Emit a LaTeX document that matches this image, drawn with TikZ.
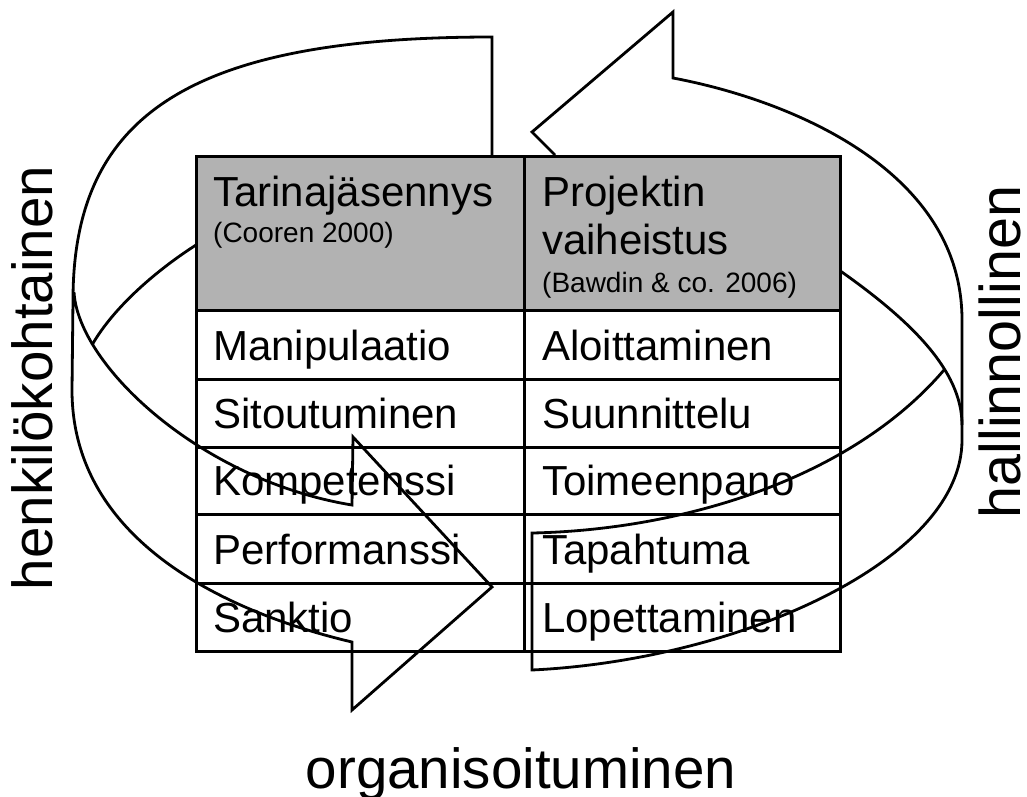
\documentclass[tikz,border=0pt]{standalone}
\usepackage{fontspec}
\setmainfont{Liberation Sans}
\definecolor{hdr}{RGB}{178,178,178}
\begin{document}
\begin{tikzpicture}[x=1pt,y=-1pt,
  outline/.style={draw=black, line width=2.8pt, line join=miter},
  cellbox/.style={draw=black, line width=2.6pt, inner sep=0pt, anchor=north west},
  headbox/.style={cellbox, fill=hdr},
  celltext/.style={font=\fontsize{42}{48}\selectfont, inner sep=0pt, anchor=base west},
  smalltext/.style={font=\fontsize{28}{32}\selectfont, inner sep=0pt, anchor=base west},
  sidelabel/.style={font=\fontsize{56.5}{64}\selectfont, inner sep=0pt, anchor=base}]

\useasboundingbox (0,0) rectangle (1027,796);
\fill[white] (0,0) rectangle (1027,796);

% left circular arrow: tail at the top, head pointing right at the bottom
\draw[outline] (492,155) -- (492,37)
  .. controls (190,37) and (73,115) .. (73,300) -- (72,390)
  .. controls (72,540) and (225,612) .. (352,642)
  -- (352,710) -- (492,587) -- (353,437) -- (352,505)
  .. controls (200,480) and (78,365) .. (74,292);
\draw[outline] (196,245) .. controls (160,268) and (115,305) .. (92,345);

% right circular arrow: tail at the bottom, head pointing left at the top
\draw[outline] (555,155) -- (532,132) -- (673,12) -- (673,78)
  .. controls (790,100) and (962,170) .. (962,320) -- (962,440)
  .. controls (962,560) and (740,660) .. (532,670) -- (532,533)
  .. controls (680,530) and (850,480) .. (944,370);
\draw[outline] (839,270) .. controls (910,320) and (962,370) .. (962,425);

% table header
\node[headbox, minimum width=328pt, minimum height=154pt] (hl) at (195,155) {};
\node[headbox, minimum width=316pt, minimum height=154pt] (hr) at (523,155) {};
\node[celltext] (hlt) at (213,206) {Tarinajäsennys};
\node[smalltext] (hls) at (213,242) {(Cooren 2000)};
\node[celltext] (hrt) at (542,206) {Projektin};
\node[celltext] (hrt2) at (542,254) {vaiheistus};
\node[smalltext] (hrs) at (542,292) {(Bawdin \& co. 2006)};

% table body
\foreach \name/\top/\bot/\lt/\rt in {
  ra/309/378/Manipulaatio/Aloittaminen,
  rb/378/446/Sitoutuminen/Suunnittelu,
  rc/446/513/Kompetenssi/Toimeenpano,
  rd/513/582/Performanssi/Tapahtuma,
  re/582/650/Sanktio/Lopettaminen}{
  \node[cellbox, minimum width=328pt, minimum height={\bot pt-\top pt}] (\name l) at (195,\top) {};
  \node[cellbox, minimum width=316pt, minimum height={\bot pt-\top pt}] (\name r) at (523,\top) {};
  \node[celltext] (\name lt) at (213,{\bot-18}) {\lt};
  \node[celltext] (\name rt) at (542,{\bot-18}) {\rt};
}

% side labels
\node[sidelabel, rotate=90] (personal) at (52,378) {henkilökohtainen};
\node[sidelabel, rotate=90, font=\fontsize{57.5}{64}\selectfont] (admin) at (1020,352) {hallinnollinen};
\node[sidelabel] (org) at (521,788) {organisoituminen};
\end{tikzpicture}
\end{document}
